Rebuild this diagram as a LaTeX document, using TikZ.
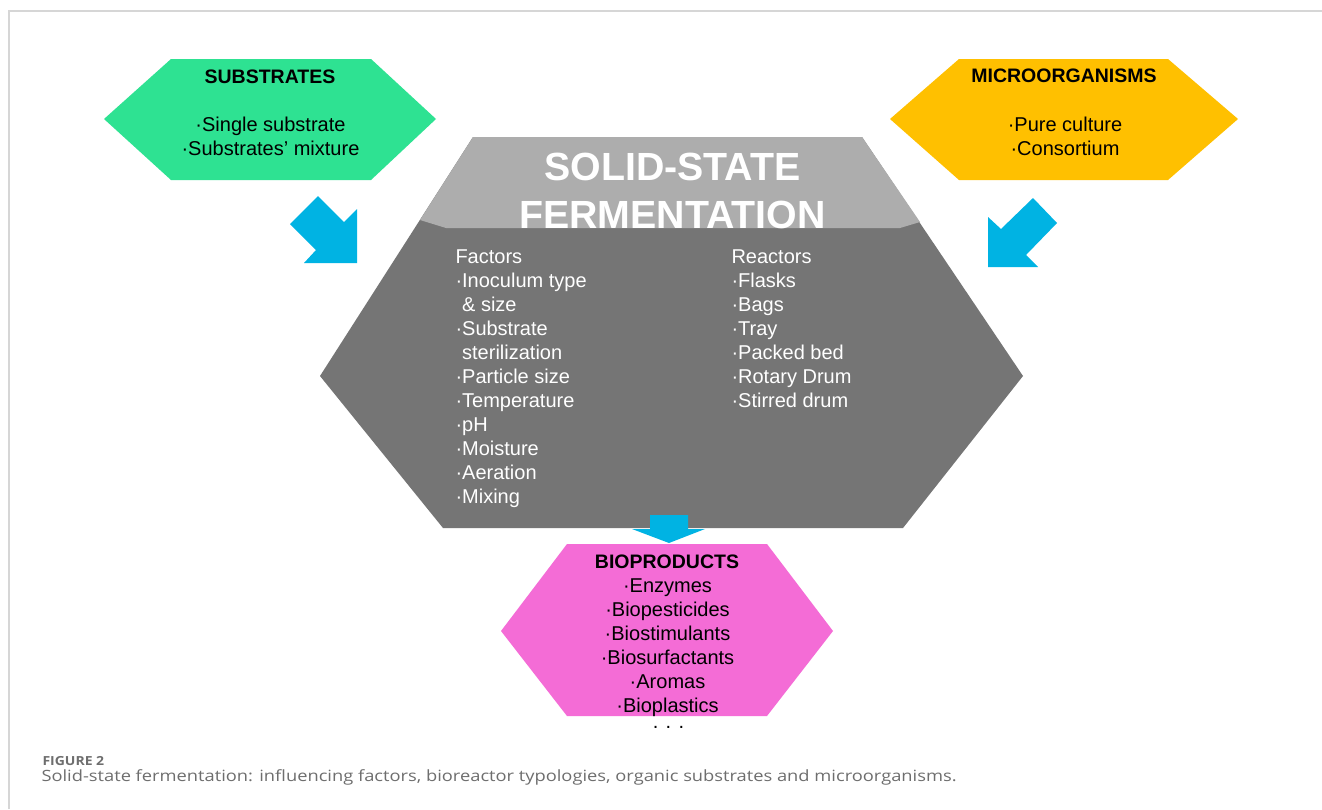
\documentclass[tikz,border=0pt]{standalone}
\usepackage{fontspec}
\setmainfont{Liberation Sans}
\newfontfamily\capfont{Open Sans}[FakeStretch=1.18]
\newfontfamily\fignumfont{Open Sans}[FakeStretch=1.12]

\definecolor{subgreen}{HTML}{2EE292}
\definecolor{micyellow}{HTML}{FFC000}
\definecolor{capgray}{HTML}{ADADAD}
\definecolor{bodygray}{HTML}{757575}
\definecolor{flowblue}{HTML}{00B3E3}
\definecolor{bioprose}{HTML}{F46CD6}
\definecolor{framegray}{HTML}{D6D6D6}
\definecolor{captext}{HTML}{6E6E6E}

\begin{document}
\begin{tikzpicture}[x=1pt,y=-1pt,
  every node/.style={inner sep=0pt, outer sep=0pt},
  body/.style={font=\fontsize{20}{24}\selectfont, anchor=base},
  boxtitle/.style={font=\bfseries\fontsize{19.5}{24}\selectfont, anchor=base},
  maintitle/.style={font=\bfseries\fontsize{39.3}{44}\selectfont, text=white, anchor=base},
  lightbody/.style={body, text=white, anchor=base west},
  flowarrow/.style={fill=flowblue}
]
\useasboundingbox (0,0) rectangle (1322,809);
\fill[white] (0,0) rectangle (1322,809);

% page frame
\draw[framegray, line width=1.5pt] (9,809) -- (9,11) -- (1322,11);

% central solid-state fermentation hexagon
\fill[bodygray] (473,137) -- (862,137) -- (1023,376) -- (903,528) -- (443,528) -- (320,376) -- cycle;
\fill[capgray] (473,137) -- (862,137) -- (920,222) -- (900,228) -- (446,228) -- (420,220) -- cycle;
\node[maintitle] (title1) at (672.5,180) {SOLID-STATE};
\node[maintitle] (title2) at (672.5,228) {FERMENTATION};

% factors column
\foreach \t [count=\i from 0] in {Factors, ·Inoculum type, \phantom{·}\& size, ·Substrate,
    \phantom{·}sterilization, ·Particle size, ·Temperature, ·pH, ·Moisture, ·Aeration, ·Mixing}
  \node[lightbody] (fac\i) at (455.5,263+24*\i) {\t};

% reactors column
\foreach \t [count=\i from 0] in {Reactors, ·Flasks, ·Bags, ·Tray, ·Packed bed, ·Rotary Drum, ·Stirred drum}
  \node[lightbody] (rea\i) at (731.5,263+24*\i) {\t};

% arrow towards the bioproducts
\fill[flowarrow] (650,515) -- (688,515) -- (688,529) -- (705,529) -- (669,543) -- (632,529) -- (650,529) -- cycle;

% substrates
\fill[subgreen] (104,119) -- (171,59) -- (371,59) -- (436,119) -- (371,180) -- (171,180) -- cycle;
\node[boxtitle] (subt) at (270,83) {SUBSTRATES};
\node[body] (sub1) at (270.5,131) {·Single substrate};
\node[body] (sub2) at (270.5,155) {·Substrates’ mixture};

% microorganisms
\fill[micyellow] (890,119) -- (959,59) -- (1168,59) -- (1238,119) -- (1168,180) -- (959,180) -- cycle;
\node[boxtitle] (mict) at (1064,82) {MICROORGANISMS};
\node[body] (mic1) at (1065,131) {·Pure culture};
\node[body] (mic2) at (1065,155) {·Consortium};

% inflow arrows
\fill[flowarrow] (318,196) -- (344,222) -- (357,209) -- (357,263) -- (304,263) -- (316,250) -- (290,224) -- cycle;
\fill[flowarrow] (1033,198) -- (1057,223) -- (1026,255) -- (1038,267) -- (988,267) -- (988,217) -- (1001,229) -- cycle;

% bioproducts
\fill[bioprose] (501,631) -- (567,544) -- (767,544) -- (833,631) -- (767,716) -- (567,716) -- cycle;
\node[boxtitle] (biot) at (667,568) {BIOPRODUCTS};
\foreach \t [count=\i from 0] in {·Enzymes, ·Biopesticides, ·Biostimulants, ·Biosurfactants, ·Aromas, ·Bioplastics}
  \node[body] (bio\i) at (667.5,592+24*\i) {\t};
\node[body] (biomore) at (668.5,728) {. . .};

% caption
\node[anchor=base west, text=captext, font=\fignumfont\bfseries\fontsize{12.5}{14}\selectfont] (fignum) at (42.5,765) {FIGURE 2};
\node[anchor=base west, text=captext, font=\capfont\fontsize{15.5}{18}\selectfont] (figcap) at (41.5,781.5)
  {Solid-state fermentation: influencing factors, bioreactor typologies, organic substrates and microorganisms.};
\end{tikzpicture}
\end{document}
